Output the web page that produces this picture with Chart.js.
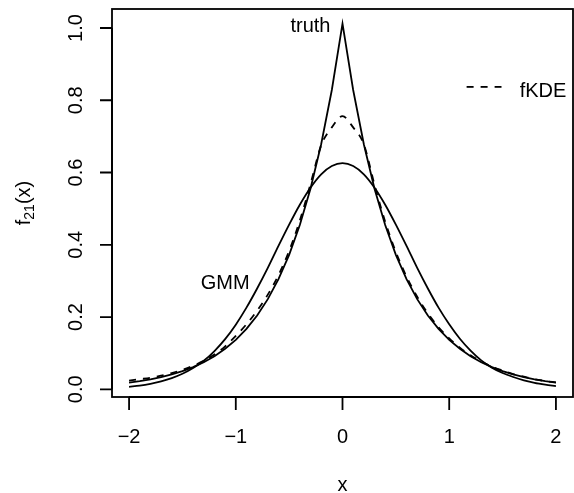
<!DOCTYPE html>
<html>
<head>
<meta charset="utf-8">
<script src="https://cdn.jsdelivr.net/npm/chart.js@4/dist/chart.umd.min.js"></script>
<style>
  html, body { margin: 0; padding: 0; background: #ffffff; }
  #wrap { width: 574px; height: 493px; }
</style>
</head>
<body>
<div id="wrap"><canvas id="c" width="574" height="493"></canvas></div>
<script>
// ---- data ----
const xValues = [-2.0,-1.9,-1.8,-1.7,-1.6,-1.5,-1.4,-1.3,-1.2,-1.1,-1.0,-0.9,-0.8,-0.7,-0.6,-0.5,-0.4,-0.3,-0.2,-0.1,0.0,
                  0.1,0.2,0.3,0.4,0.5,0.6,0.7,0.8,0.9,1.0,1.1,1.2,1.3,1.4,1.5,1.6,1.7,1.8,1.9,2.0];
const truthValues = [0.0185,0.0226,0.0276,0.0337,0.0412,0.0503,0.0615,0.0751,0.0917,0.1121,0.1369,0.1672,0.2042,0.2495,0.3047,0.3722,0.4546,0.5553,0.6783,0.8285,1.012,
                     0.8285,0.6783,0.5553,0.4546,0.3722,0.3047,0.2495,0.2042,0.1672,0.1369,0.1121,0.0917,0.0751,0.0615,0.0503,0.0412,0.0337,0.0276,0.0226,0.0185];
const fkdeValues = [0.024,0.028,0.032,0.038,0.045,0.054,0.065,0.079,0.096,0.119,0.148,0.180,0.218,0.262,0.316,0.383,0.467,0.568,0.675,0.725,0.756,
                    0.725,0.678,0.566,0.464,0.380,0.312,0.256,0.210,0.172,0.141,0.115,0.094,0.077,0.063,0.052,0.042,0.035,0.028,0.023,0.019];
const gmmValues = [0.007,0.010,0.015,0.022,0.031,0.043,0.059,0.079,0.106,0.139,0.179,0.226,0.279,0.336,0.397,0.456,0.511,0.558,0.595,0.618,0.626,
                   0.618,0.595,0.558,0.511,0.456,0.397,0.336,0.279,0.226,0.180,0.140,0.107,0.080,0.060,0.045,0.034,0.025,0.018,0.013,0.009];
const xTickValues = [-2, -1, 0, 1, 2];
const xTickLabels = ["\u22122", "\u22121", "0", "1", "2"];
const yTickValues = [0, 0.2, 0.4, 0.6, 0.8, 1.0];
const yTickLabels = ["0.0", "0.2", "0.4", "0.6", "0.8", "1.0"];
const xTitle = "x";
const yTitleMain = "f";
const yTitleSub = "21";
const yTitleTail = "(x)";
const seriesNames = ["truth", "fKDE", "GMM"];

const FONT = '"Liberation Sans", Arial, Helvetica, sans-serif';
const LW = 1.8;

function pts(ys) { return xValues.map((x, i) => ({ x: x, y: ys[i] })); }

const rStyle = {
  id: 'rStyle',
  beforeDraw(chart) {
    const ctx = chart.ctx;
    ctx.save();
    ctx.fillStyle = '#ffffff';
    ctx.fillRect(0, 0, chart.width, chart.height);
    ctx.restore();
  },
  afterDraw(chart) {
    const ctx = chart.ctx;
    const xs = chart.scales.x, ys = chart.scales.y;
    const a = chart.chartArea;
    ctx.save();
    ctx.strokeStyle = '#000';
    ctx.fillStyle = '#000';
    ctx.lineWidth = LW;
    // box
    ctx.strokeRect(a.left, a.top, a.right - a.left, a.bottom - a.top);
    // x axis
    const x0 = xs.getPixelForValue(xTickValues[0]);
    const x1 = xs.getPixelForValue(xTickValues[xTickValues.length - 1]);
    ctx.beginPath();
    ctx.moveTo(x0, a.bottom); ctx.lineTo(x1, a.bottom);
    xTickValues.forEach(v => {
      const px = xs.getPixelForValue(v);
      ctx.moveTo(px, a.bottom); ctx.lineTo(px, a.bottom + 13);
    });
    // y axis
    const y0 = ys.getPixelForValue(yTickValues[0]);
    const y1 = ys.getPixelForValue(yTickValues[yTickValues.length - 1]);
    ctx.moveTo(a.left, y0); ctx.lineTo(a.left, y1);
    yTickValues.forEach(v => {
      const py = ys.getPixelForValue(v);
      ctx.moveTo(a.left, py); ctx.lineTo(a.left - 12, py);
    });
    ctx.stroke();

    ctx.font = '20px ' + FONT;
    ctx.textAlign = 'center';
    ctx.textBaseline = 'alphabetic';
    xTickValues.forEach((v, i) => {
      ctx.fillText(xTickLabels[i], xs.getPixelForValue(v), a.bottom + 46);
    });
    yTickValues.forEach((v, i) => {
      ctx.save();
      ctx.translate(a.left - 30.5, ys.getPixelForValue(v));
      ctx.rotate(-Math.PI / 2);
      ctx.fillText(yTickLabels[i], 0, 0);
      ctx.restore();
    });
    // axis titles
    ctx.fillText(xTitle, (a.left + a.right) / 2, a.bottom + 94);
    ctx.save();
    const midY = (a.top + a.bottom) / 2;
    ctx.translate(30, midY);
    ctx.rotate(-Math.PI / 2);
    ctx.textAlign = 'left';
    ctx.font = '20px ' + FONT;
    const wMain = ctx.measureText(yTitleMain).width;
    const wTail = ctx.measureText(yTitleTail).width;
    ctx.font = '14px ' + FONT;
    const wSub = ctx.measureText(yTitleSub).width;
    let cx = -(wMain + wSub + wTail) / 2;
    ctx.font = '20px ' + FONT;
    ctx.fillText(yTitleMain, cx, 0); cx += wMain;
    ctx.font = '14px ' + FONT;
    ctx.fillText(yTitleSub, cx, 3.5); cx += wSub;
    ctx.font = '20px ' + FONT;
    ctx.fillText(yTitleTail, cx, 0);
    ctx.restore();

    // annotations
    ctx.font = '20px ' + FONT;
    ctx.textAlign = 'center';
    ctx.fillText(seriesNames[0], xs.getPixelForValue(-0.30), ys.getPixelForValue(0.9887));
    ctx.fillText(seriesNames[2], xs.getPixelForValue(-1.10), ys.getPixelForValue(0.279));
    // legend for fKDE
    ctx.textAlign = 'left';
    ctx.fillText(seriesNames[1], xs.getPixelForValue(1.66), ys.getPixelForValue(0.809));
    ctx.beginPath();
    ctx.setLineDash([7, 7]);
    ctx.lineWidth = LW;
    const ly = ys.getPixelForValue(0.837);
    ctx.moveTo(xs.getPixelForValue(1.163), ly);
    ctx.lineTo(xs.getPixelForValue(1.49), ly);
    ctx.stroke();
    ctx.restore();
  }
};

new Chart(document.getElementById('c'), {
  type: 'line',
  data: {
    datasets: [
      { label: seriesNames[0], data: pts(truthValues), borderColor: '#000', borderWidth: LW, pointRadius: 0, fill: false, tension: 0 },
      { label: seriesNames[1], data: pts(fkdeValues), borderColor: '#000', borderWidth: LW, pointRadius: 0, fill: false, borderDash: [7, 7], cubicInterpolationMode: 'monotone' },
      { label: seriesNames[2], data: pts(gmmValues), borderColor: '#000', borderWidth: LW, pointRadius: 0, fill: false, cubicInterpolationMode: 'monotone' }
    ]
  },
  options: {
    responsive: false,
    animation: false,
    devicePixelRatio: 1,
    layout: { padding: { left: 112, right: 1, top: 9, bottom: 96 } },
    plugins: { legend: { display: false }, tooltip: { enabled: false } },
    scales: {
      x: { type: 'linear', min: -2.16, max: 2.16, display: false },
      y: { type: 'linear', min: -0.0213, max: 1.0526, display: false }
    }
  },
  plugins: [rStyle]
});
</script>
</body>
</html>
